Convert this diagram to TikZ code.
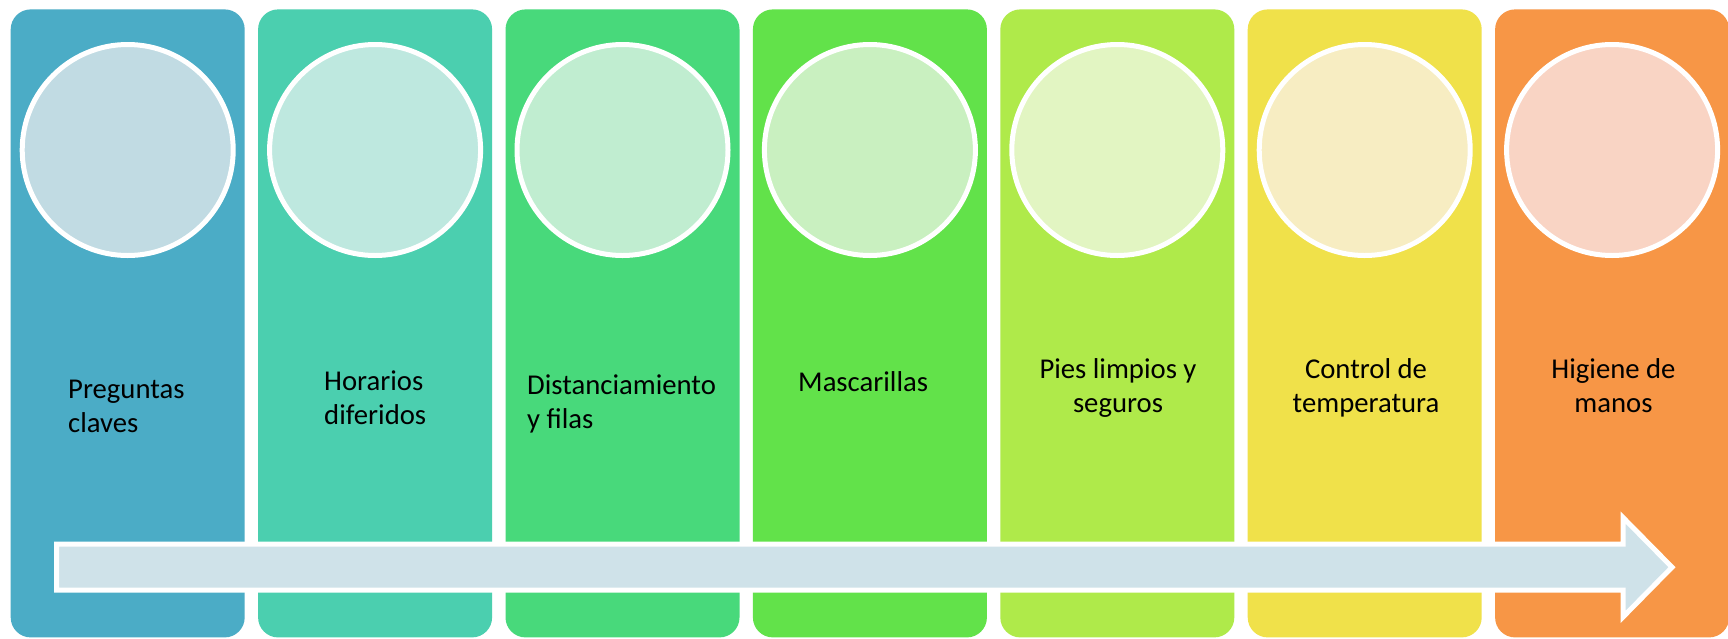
\documentclass[tikz,border=0pt]{standalone}
\usepackage{fontspec}
\setmainfont{Carlito}
\definecolor{pa}{RGB}{75,172,198}
\definecolor{pb}{RGB}{75,207,175}
\definecolor{pc}{RGB}{72,217,123}
\definecolor{pd}{RGB}{98,226,74}
\definecolor{pe}{RGB}{175,234,74}
\definecolor{pf}{RGB}{240,225,74}
\definecolor{pg}{RGB}{247,150,70}
\definecolor{ca}{RGB}{193,219,227}
\definecolor{cb}{RGB}{190,232,223}
\definecolor{cc}{RGB}{192,237,208}
\definecolor{cd}{RGB}{201,240,192}
\definecolor{ce}{RGB}{226,245,194}
\definecolor{cf}{RGB}{247,237,194}
\definecolor{cg}{RGB}{249,212,196}
\definecolor{arrowfill}{RGB}{207,226,233}
\begin{document}
\begin{tikzpicture}[x=1pt,y=-1pt,
  panel/.style={rectangle, rounded corners=20pt, minimum width=234pt, minimum height=628pt, inner sep=0pt, draw=none},
  disc/.style={circle, minimum size=211pt, inner sep=0pt, draw=white, line width=5pt},
  txt/.style={font=\fontsize{28.7}{34}\selectfont, inner sep=0pt, text=black},
  bigarrow/.style={draw=white, line width=5pt, fill=arrowfill, line join=miter, miter limit=10}
]
\useasboundingbox (0,0) rectangle (1728,638);
\fill[white] (0,0) rectangle (1728,638);
\foreach \i/\pcol/\ccol in {0/pa/ca,1/pb/cb,2/pc/cc,3/pd/cd,4/pe/ce,5/pf/cf,6/pg/cg}{
  \node[panel, fill=\pcol] (p\i) at ({127.7+247.4*\i},323.4) {};
  \node[disc, fill=\ccol] (c\i) at ({127.7+247.4*\i},150) {};
}
\draw[bigarrow] (56.5,544.2) -- (1623,544.2) -- (1623,517.5) -- (1672,567.2) -- (1623,617) -- (1623,590.2) -- (56.5,590.2) -- cycle;
\node[txt, align=left, anchor=base west] (t1) at (68,432.5) {Preguntas\\claves};
\node[txt, align=left, anchor=base west] (t2) at (324,424) {Horarios\\diferidos};
\node[txt, align=left, anchor=base west] (t3) at (527,428) {Distanciamiento\\y filas};
\node[txt, align=left, anchor=base west] (t4) at (798,391) {Mascarillas};
\node[txt, align=center, anchor=base] (t5) at (1118,412) {Pies limpios y\\seguros};
\node[txt, align=center, anchor=base] (t6) at (1366,412) {Control de\\temperatura};
\node[txt, align=center, anchor=base] (t7) at (1613.5,412) {Higiene de\\manos};
\end{tikzpicture}
\end{document}
